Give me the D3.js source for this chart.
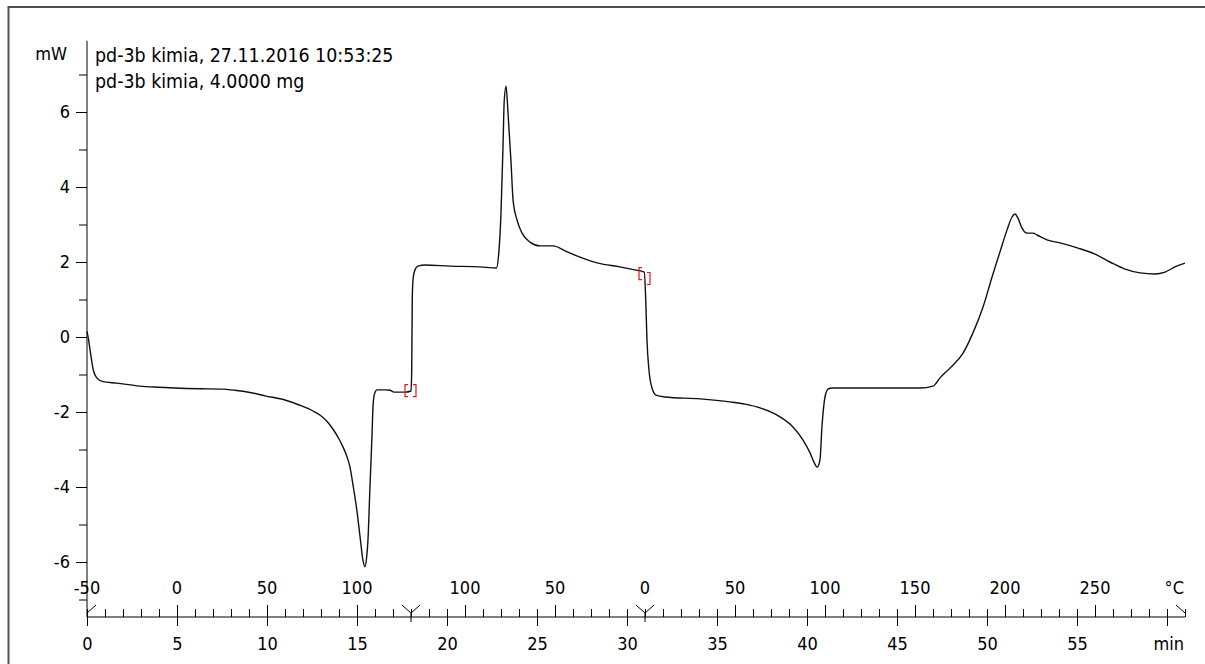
<!DOCTYPE html>
<html>
<head>
<meta charset="utf-8">
<script src="https://cdn.jsdelivr.net/npm/d3@7"></script>
<style>
  html, body { margin: 0; padding: 0; background: #fff; overflow: hidden; }
  svg { display: block; }
  text { font-family: "DejaVu Sans Condensed", "DejaVu Sans", sans-serif; font-stretch: condensed; fill: #000; }
</style>
</head>
<body>
<svg id="chart" width="1205" height="664"></svg>
<script>
// DSC run: heat flow (mW) against time (min)
const timeMin = [
  0, 0.08, 0.17, 0.35, 0.54, 0.89, 1.65, 2.94, 4.0, 4.89, 6.28, 7.5, 8.2, 9.06, 9.89,
  11.0, 11.83, 12.5, 12.94, 13.35, 13.67, 14.0, 14.22, 14.45, 14.61, 14.78, 15.0, 15.17,
  15.33, 15.44, 15.53, 15.61, 15.72, 15.83, 15.89, 15.97, 16.11, 16.56, 16.83, 17.06,
  17.67, 18.0, 18.04, 18.07, 18.11, 18.22, 18.39, 18.78, 20.17, 21.83, 22.75, 22.85,
  23.0, 23.11, 23.18, 23.28, 23.39, 23.56, 23.67, 23.89, 24.17, 24.61, 25.17, 25.89,
  26.67, 27.39, 28.39, 29.61, 30.44, 30.96, 31.04, 31.11, 31.22, 31.39, 31.61, 32.11,
  34.06, 35.72, 36.56, 37.39, 38.5, 39.22, 39.78, 40.17, 40.44, 40.56, 40.72, 40.83,
  41.0, 41.17, 41.39, 44.06, 46.28, 47.0, 47.39, 47.94, 48.67, 49.22, 49.78, 50.28,
  50.72, 51.11, 51.39, 51.56, 51.72, 51.94, 52.22, 52.56, 52.78, 53.33, 54.06, 55.06,
  56.0, 56.83, 57.67, 58.5, 59.33, 59.89, 60.44, 61.0
];
const heatFlowMw = [
  0.15, -0.05, -0.35, -0.88, -1.09, -1.19, -1.23, -1.31, -1.34, -1.36, -1.38, -1.39, -1.42, -1.48, -1.57,
  -1.68, -1.82, -1.96, -2.08, -2.26, -2.46, -2.72, -2.93, -3.2, -3.47, -3.95, -4.65, -5.33,
  -5.95, -6.13, -5.9, -5.41, -4.0, -2.67, -1.85, -1.52, -1.41, -1.41, -1.42, -1.47,
  -1.47, -1.44, -0.9, 0.99, 1.52, 1.79, 1.89, 1.92, 1.89, 1.87, 1.84, 2.1,
  3.31, 5.07, 6.3, 6.69, 5.97, 4.64, 3.65, 3.12, 2.77, 2.53, 2.43, 2.43,
  2.27, 2.13, 1.97, 1.87, 1.79, 1.73, 1.0, -0.08, -0.88, -1.36, -1.55, -1.6,
  -1.65, -1.73, -1.79, -1.89, -2.13, -2.4, -2.75, -3.09, -3.39, -3.47, -3.28, -2.4,
  -1.6, -1.39, -1.36, -1.36, -1.36, -1.31, -1.09, -0.83, -0.43, 0.11, 0.8, 1.6,
  2.27, 2.85, 3.2, 3.28, 3.17, 2.91, 2.77, 2.77, 2.72, 2.59, 2.51, 2.37,
  2.21, 2.0, 1.81, 1.71, 1.68, 1.73, 1.87, 1.97
];

// Temperature program: segment boundaries (min), start temperatures (°C), rates (K/min)
const segmentBoundsMin = [0, 18, 31, 61];
const segmentStartTempC = [-50, 130, 0];
const segmentRateKPerMin = [10, -10, 10];

// Segment-change brackets on the curve (mW before / after the change)
const bracketTimesMin = [18, 31];
const bracketBeforeMw = [-1.43, 1.69];
const bracketAfterMw = [-1.43, 1.56];

const yMajorTicks = [-6, -4, -2, 0, 2, 4, 6];
const yMinorTicks = [-7, -5, -3, -1, 1, 3, 5, 7];
const timeMajorTicks = [0, 5, 10, 15, 20, 25, 30, 35, 40, 45, 50, 55, 60];
const headerLines = ["pd-3b kimia, 27.11.2016 10:53:25", "pd-3b kimia, 4.0000 mg"];
const yUnit = "mW";
const timeUnit = "min";
const tempUnit = "°C";

const svg = d3.select("#chart");
const x = d3.scaleLinear().domain([0, 61]).range([87, 1185]);
const y = d3.scaleLinear().domain([-6, 6]).range([562, 112]);
const axisY = 617;
const fontSize = 18;

function styleAxis(g) {
  g.selectAll(".domain").remove();
  g.attr("font-family", null).attr("font-size", null);
  g.selectAll("text").attr("font-size", fontSize).style("fill", "#000");
  g.selectAll("line").attr("stroke", "#000");
}

// frame
svg.append("path")
  .attr("d", "M8.5,664 V7 H1205")
  .attr("fill", "none").attr("stroke", "#505050").attr("stroke-width", 2);

// y axis
svg.append("g").attr("transform", `translate(${x(0)},0)`)
  .call(d3.axisLeft(y).tickValues(yMinorTicks).tickSize(8).tickFormat("").tickSizeOuter(0))
  .call(styleAxis);
const gy = svg.append("g").attr("transform", `translate(${x(0)},0)`)
  .call(d3.axisLeft(y).tickValues(yMajorTicks).tickSize(11).tickPadding(6)
    .tickFormat(d => String(d)).tickSizeOuter(0))
  .call(styleAxis);
gy.append("line").attr("x1", 0).attr("x2", 0).attr("y1", y(7.9)).attr("y2", axisY).attr("stroke", "#000");

svg.append("text").attr("x", 67).attr("y", 60).attr("text-anchor", "end")
  .attr("font-size", fontSize).text(yUnit);

// header
svg.selectAll("text.hdr").data(headerLines).join("text")
  .attr("class", "hdr")
  .attr("x", 95).attr("y", (d, i) => 62 + i * 25.5)
  .attr("font-size", 19.4).text(d => d);

// time axis
svg.append("g").attr("transform", `translate(0,${axisY})`)
  .call(d3.axisTop(x).tickValues(d3.range(0, 62, 1)).tickSize(8).tickFormat("").tickSizeOuter(0))
  .call(styleAxis);
const gx = svg.append("g").attr("transform", `translate(0,${axisY})`)
  .call(d3.axisBottom(x).tickValues(timeMajorTicks).tickSize(9).tickPadding(11)
    .tickFormat(d => d === 60 ? "" : String(d)).tickSizeOuter(0))
  .call(styleAxis);
gx.append("line").attr("x1", x(0)).attr("x2", x(61)).attr("y1", 0).attr("y2", 0).attr("stroke", "#000");
gx.append("text").attr("x", x(61) - 1).attr("y", 20).attr("dy", "0.71em")
  .attr("text-anchor", "end").attr("font-size", fontSize).text(timeUnit);

// temperature scale along the time axis
const tempTicks = [];
segmentStartTempC.forEach((T0, i) => {
  const t0 = segmentBoundsMin[i], t1 = segmentBoundsMin[i + 1], r = segmentRateKPerMin[i];
  const Ta = T0, Tb = T0 + r * (t1 - t0);
  const lo = Math.min(Ta, Tb), hi = Math.max(Ta, Tb);
  for (let T = Math.ceil(lo / 50) * 50; T <= hi; T += 50) {
    const t = t0 + (T - T0) / r;
    if (!tempTicks.some(d => Math.abs(d.t - t) < 1e-6)) tempTicks.push({ t, T });
  }
});
const isBound = t => segmentBoundsMin.some(b => Math.abs(b - t) < 1e-6);
svg.append("g").attr("transform", `translate(0,${axisY})`)
  .call(d3.axisTop(x).tickValues(tempTicks.filter(d => !isBound(d.t)).map(d => d.t))
    .tickSize(12).tickFormat("").tickSizeOuter(0))
  .call(styleAxis);
const lastT = segmentBoundsMin[segmentBoundsMin.length - 1];
const isLast = d => Math.abs(d.t - lastT) < 1e-6;
svg.selectAll("text.temp").data(tempTicks).join("text")
  .attr("class", "temp")
  .attr("x", d => isLast(d) ? x(d.t) - 1 : x(d.t))
  .attr("y", 594)
  .attr("text-anchor", d => isLast(d) ? "end" : "middle")
  .attr("font-size", fontSize)
  .text(d => isLast(d) ? tempUnit : String(d.T));

// segment boundary markers
const mk = svg.append("g").attr("stroke", "#000").attr("fill", "none");
segmentBoundsMin.forEach((b, i) => {
  const bx = x(b);
  if (i > 0) mk.append("line").attr("x1", bx - 9).attr("y1", axisY - 12).attr("x2", bx).attr("y2", axisY - 4);
  if (i < segmentBoundsMin.length - 1) mk.append("line").attr("x1", bx).attr("y1", axisY - 4).attr("x2", bx + 9).attr("y2", axisY - 12);
  if (i > 0 && i < segmentBoundsMin.length - 1)
    mk.append("line").attr("x1", bx).attr("x2", bx).attr("y1", axisY - 4).attr("y2", axisY + 5);
});

// curve
const pts = timeMin.map((t, i) => [t, heatFlowMw[i]]);
svg.append("path")
  .datum(pts)
  .attr("fill", "none").attr("stroke", "#111").attr("stroke-width", 1.4)
  .attr("stroke-linejoin", "round")
  .attr("d", d3.line().x(d => x(d[0])).y(d => y(d[1])).curve(d3.curveMonotoneX));

// segment-change brackets
const br = svg.append("g").attr("stroke", "#e8141c").attr("fill", "none").attr("stroke-width", 1.2);
bracketTimesMin.forEach((t, i) => {
  const bx = x(t), yb = y(bracketBeforeMw[i]), ya = y(bracketAfterMw[i]);
  br.append("path").attr("d", `M${bx - 3},${yb - 6} H${bx - 6} V${yb + 6} H${bx - 3}`);
  br.append("path").attr("d", `M${bx + 2},${ya - 6} H${bx + 5} V${ya + 6} H${bx + 2}`);
});
</script>
</body>
</html>
